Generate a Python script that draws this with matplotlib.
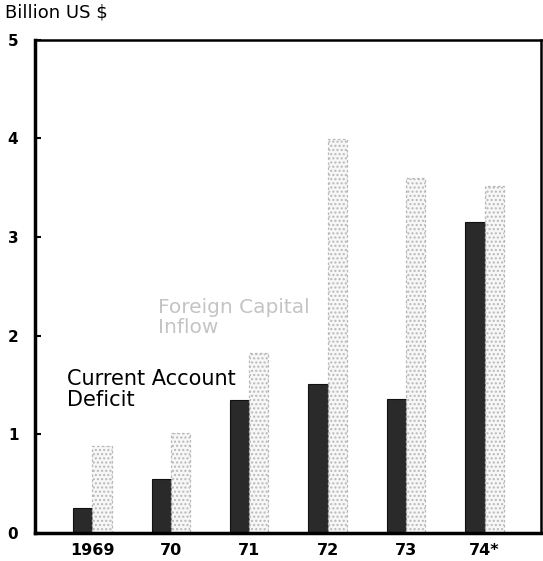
import matplotlib.pyplot as plt
import numpy as np

years = ["1969", "70", "71", "72", "73", "74*"]
deficit = [0.25, 0.55, 1.35, 1.51, 1.36, 3.15]
inflow = [0.88, 1.01, 1.82, 3.99, 3.60, 3.52]
yticks = [0, 1, 2, 3, 4, 5]

plt.rcParams["hatch.color"] = "#d4d4d4"
fig = plt.figure(figsize=(5.43, 5.61), dpi=100)
ax = fig.add_axes([0.0645, 0.05, 0.932, 0.879])
x = np.arange(len(years))
w = 0.245
ax.bar(x - w / 2, deficit, width=w, color="#2a2a2a", edgecolor="#111111", linewidth=0.8)
ax.bar(x + w / 2, inflow, width=w, color="#f7f7f7", edgecolor="#b8b8b8",
       linewidth=0.9, linestyle=(0, (2, 2)), hatch="....")

ax.set_xlim(-0.73, 5.72)
ax.set_ylim(0, 5)
ax.set_yticks(yticks)
ax.set_yticklabels([str(t) for t in yticks], fontsize=11, fontweight="bold")
ax.set_xticks(x)
ax.set_xticklabels(years, fontsize=11.5, fontweight="bold")
ax.tick_params(axis="y", direction="in", length=4, width=1.5, pad=12)
ax.tick_params(axis="x", length=0, pad=7)
for s in ["left", "bottom"]:
    ax.spines[s].set_linewidth(2.5)
for s in ["top", "right"]:
    ax.spines[s].set_linewidth(1.8)

fig.text(0.009, 0.993, "Billion US $", fontsize=13, va="top", ha="left")
ax.text(-0.32, 1.66, "Current Account\nDeficit", fontsize=15, ha="left", va="top",
        linespacing=1.05)
ax.text(0.84, 2.38, "Foreign Capital\nInflow", fontsize=14.5, ha="left", va="top",
        color="#c4c4c4", linespacing=1.05)

fig.savefig("out.png", dpi=100)
